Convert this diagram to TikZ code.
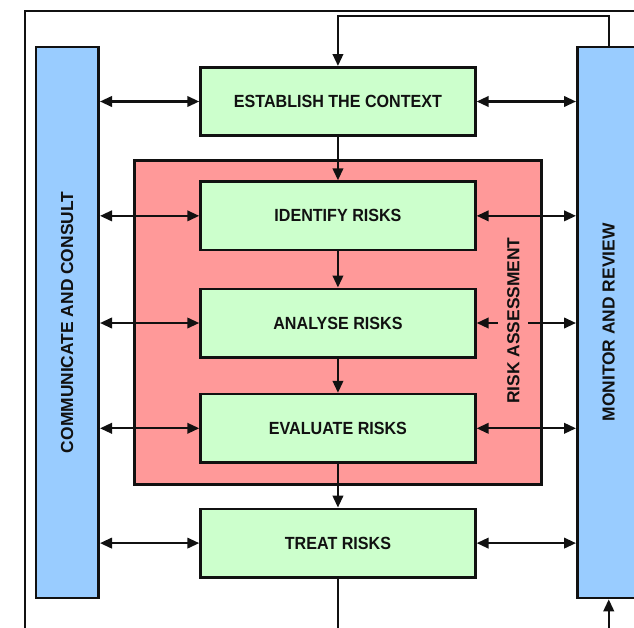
\documentclass[tikz,border=0pt]{standalone}
\usepackage{fontspec}
\setmainfont{Liberation Sans}
\newfontfamily\hfont[FakeStretch=0.915]{Liberation Sans}
\usetikzlibrary{arrows.meta}
\definecolor{boxgreen}{HTML}{CCFFCC}
\definecolor{riskred}{HTML}{FF9999}
\definecolor{barblue}{HTML}{99CCFF}
\definecolor{inkblack}{HTML}{111111}
\begin{document}
\begin{tikzpicture}[x=1pt,y=-1pt,
  stepbox/.style={draw=inkblack, line width=2.6pt, fill=boxgreen, minimum width=274.8pt,
    minimum height=68.4pt, inner sep=0pt, text=inkblack,
    font=\hfont\bfseries\fontsize{17.6}{20}\selectfont},
  sidebar/.style={draw=inkblack, line width=2.6pt, fill=barblue, minimum width=62.9pt,
    minimum height=551.2pt, inner sep=0pt, text=inkblack,
    font=\bfseries\fontsize{17.4}{20}\selectfont},
  tipstyle/.tip={Triangle[length=12pt,width=10.5pt]},
  link/.style={line width=2.3pt, draw=inkblack, -tipstyle},
  twoway/.style={line width=2.3pt, draw=inkblack, tipstyle-tipstyle}]
\useasboundingbox (0,0) rectangle (634,627);
\clip (0,0) rectangle (634,627);
% outer frame
\draw[line width=1.3pt, inkblack] (25,11) rectangle (720,720);
% side bars
\node[sidebar] (comm) at (67.25,322.4) {\rotatebox{90}{COMMUNICATE AND CONSULT}};
\node[sidebar] (mon) at (608.75,322.4) {\rotatebox{90}{MONITOR AND REVIEW}};
% risk assessment region
\node[draw=inkblack, line width=2.6pt, fill=riskred, minimum width=406.7pt,
  minimum height=324.4pt, inner sep=0pt] (risk) at (337.95,322.5) {};
% process steps
\node[stepbox] (est) at (337.95,101.5) {ESTABLISH THE CONTEXT};
\node[stepbox] (ide) at (337.95,215.85) {IDENTIFY RISKS};
\node[stepbox] (ana) at (337.95,323) {ANALYSE RISKS};
\node[stepbox] (eva) at (337.95,428.3) {EVALUATE RISKS};
\node[stepbox] (tre) at (337.95,543.1) {TREAT RISKS};
% flow arrows
\draw[link] (est) -- (ide);
\draw[link] (ide) -- (ana);
\draw[link] (ana) -- (eva);
\draw[link] (eva) -- (tre);
% feedback loops
\draw[link] (mon.north) -- ++(0,-29.5) -| (est.north);
\draw[link] (tre.south) -- ++(0,100) -| (mon.south);
% two-way arrows
\foreach \b in {est,ide,ana,eva,tre}{
  \draw[twoway] (comm.east |- \b.west) -- (\b.west);
  \draw[twoway] (\b.east) -- (mon.west |- \b.east);
}
% risk assessment label
\node[fill=riskred, rotate=90, inner xsep=2pt, inner ysep=9pt, text=inkblack,
  font=\bfseries\fontsize{17.4}{20}\selectfont] (risklabel) at (513.3,320.5) {RISK ASSESSMENT};
\end{tikzpicture}
\end{document}
